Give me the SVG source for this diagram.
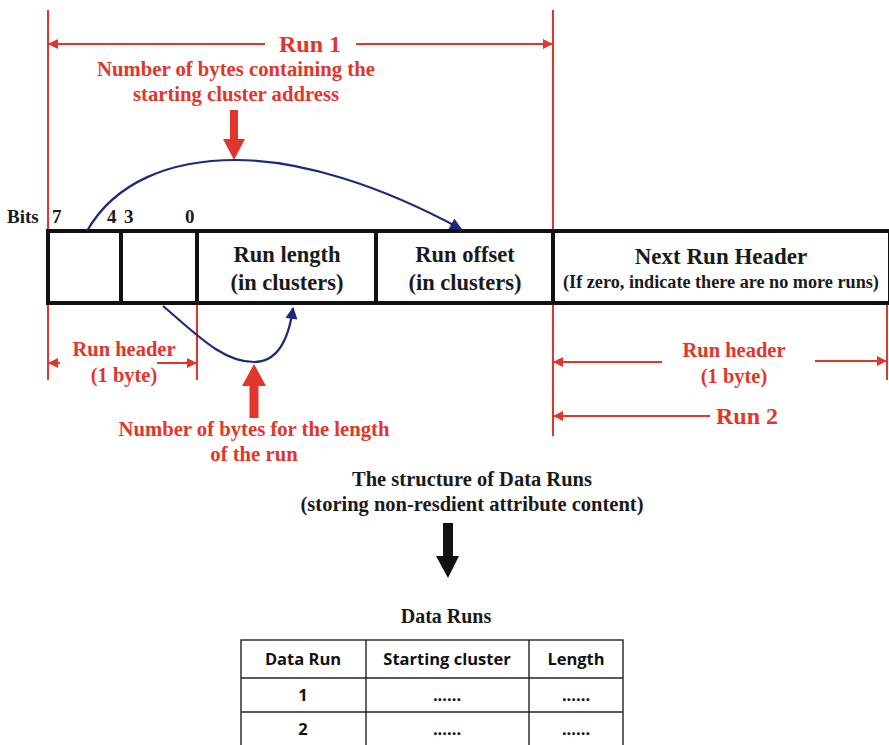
<svg xmlns="http://www.w3.org/2000/svg" width="889" height="745" viewBox="0 0 889 745">
  <defs>
    <marker id="redHead" viewBox="0 0 10 10" refX="10" refY="5" markerWidth="11" markerHeight="10" markerUnits="userSpaceOnUse" orient="auto-start-reverse">
      <path d="M0,0 L10,5 L0,10 z" fill="#e2352b"/>
    </marker>
    <marker id="blueHead" viewBox="0 0 10 10" refX="9" refY="5" markerWidth="13" markerHeight="12" markerUnits="userSpaceOnUse" orient="auto">
      <path d="M0,0 L10,5 L0,10 z" fill="#1d2a77"/>
    </marker>
    <style>
      .red { fill: #e2352b; }
      .rline { stroke: #e2352b; stroke-width: 2; fill: none; }
      .serif { font-family: "Liberation Serif", "Times New Roman", serif; font-weight: bold; }
      .lbl { fill: #e2352b; text-anchor: middle; }
      .blk { fill: #1a1a1a; text-anchor: middle; }
      .cell { fill: none; stroke: #111; stroke-width: 4; }
      .curve { stroke: #1d2a77; stroke-width: 2.2; fill: none; marker-end: url(#blueHead); }
      .tbl { fill: none; stroke: #222; stroke-width: 1.4; }
      .tt { font-family: "Open Sans", "Noto Sans", sans-serif; font-weight: bold; fill: #111; text-anchor: middle; }
    </style>
  </defs>

  <!-- boundary lines of the runs -->
  <g id="guides">
    <line class="rline" x1="48" y1="10" x2="48" y2="380"/>
    <line class="rline" x1="553" y1="10" x2="553" y2="436"/>
    <line class="rline" x1="197" y1="305" x2="197" y2="380"/>
    <line class="rline" x1="887" y1="305" x2="887" y2="380"/>
  </g>

  <!-- Run 1 span -->
  <g id="run1">
    <line class="rline" x1="48" y1="44" x2="265" y2="44" marker-start="url(#redHead)"/>
    <line class="rline" x1="356" y1="44" x2="553" y2="44" marker-end="url(#redHead)"/>
    <text class="serif lbl" x="310" y="52" font-size="24">Run 1</text>
  </g>

  <!-- offset-size annotation -->
  <g id="offsetNote">
    <text class="serif lbl" x="236" y="76" font-size="20.7">Number of bytes containing the</text>
    <text class="serif lbl" x="236" y="101" font-size="20.7">starting cluster address</text>
    <path class="red" d="M230,110 H238 V139 H245 L234,160 L223,139 H230 z"/>
  </g>

  <!-- bit numbers -->
  <g id="bits" class="serif" font-size="19" fill="#1a1a1a">
    <text x="7" y="223">Bits</text>
    <text x="52" y="223">7</text>
    <text x="107" y="223">4</text>
    <text x="124" y="223">3</text>
    <text x="185" y="223">0</text>
  </g>

  <!-- data run record -->
  <g id="record">
    <rect class="cell" x="48" y="231" width="842" height="72"/>
    <line class="cell" x1="121" y1="231" x2="121" y2="303"/>
    <line class="cell" x1="197" y1="231" x2="197" y2="303"/>
    <line class="cell" x1="376" y1="231" x2="376" y2="303"/>
    <line class="cell" x1="553" y1="231" x2="553" y2="303"/>
  </g>
  <g id="runLength" class="serif blk" font-size="22.5">
    <text x="287" y="262">Run length</text>
    <text x="287" y="290">(in clusters)</text>
  </g>
  <g id="runOffset" class="serif blk" font-size="22.5">
    <text x="465" y="262">Run offset</text>
    <text x="465" y="290">(in clusters)</text>
  </g>
  <g id="nextHeader" class="serif blk">
    <text x="721" y="264" font-size="23">Next Run Header</text>
    <text x="721" y="288" font-size="18.2">(If zero, indicate there are no more runs)</text>
  </g>

  <!-- connectors -->
  <g id="connectors">
    <path class="curve" d="M87,231 C115,182 170,160 236,160 C300,160 380,185 461,229"/>
    <path class="curve" d="M163,306 C195,333 222,362 254,362 C282,362 290,330 293,308"/>
  </g>

  <!-- Run header (1 byte), left -->
  <g id="headerLeft">
    <line class="rline" x1="48" y1="363" x2="60" y2="363" marker-start="url(#redHead)"/>
    <line class="rline" x1="157" y1="363" x2="197" y2="363" marker-end="url(#redHead)"/>
    <text class="serif lbl" x="124" y="356" font-size="20.5">Run header</text>
    <text class="serif lbl" x="124" y="382" font-size="20.5">(1 byte)</text>
  </g>

  <!-- length-size annotation -->
  <g id="lengthNote">
    <path class="red" d="M254,364 L266,386 H258.5 V418 H249.5 V386 H242 z"/>
    <text class="serif lbl" x="254" y="436" font-size="20.7">Number of bytes for the length</text>
    <text class="serif lbl" x="254" y="461" font-size="20.7">of the run</text>
  </g>

  <!-- Run header (1 byte), right -->
  <g id="headerRight">
    <line class="rline" x1="553" y1="362" x2="662" y2="362" marker-start="url(#redHead)"/>
    <line class="rline" x1="815" y1="361" x2="887" y2="361" marker-end="url(#redHead)"/>
    <text class="serif lbl" x="734" y="357" font-size="20.5">Run header</text>
    <text class="serif lbl" x="734" y="383" font-size="20.5">(1 byte)</text>
  </g>

  <!-- Run 2 span -->
  <g id="run2">
    <line class="rline" x1="553" y1="416" x2="710" y2="416" marker-start="url(#redHead)"/>
    <text class="serif lbl" x="747" y="424" font-size="24">Run 2</text>
  </g>

  <!-- caption -->
  <g id="caption" class="serif blk" font-size="20.5">
    <text x="472" y="486">The structure of Data Runs</text>
    <text x="472" y="511">(storing non-resdient attribute content)</text>
  </g>

  <!-- downward arrow to table -->
  <g id="toTable">
    <path fill="#111" d="M443,523 H453 V556 H459 L448,578 L436,556 H443 z"/>
  </g>

  <!-- Data Runs table -->
  <g id="table">
    <text class="serif blk" x="446" y="623" font-size="20">Data Runs</text>
    <rect class="tbl" x="241" y="640" width="382" height="110"/>
    <line class="tbl" x1="241" y1="678" x2="623" y2="678"/>
    <line class="tbl" x1="241" y1="712" x2="623" y2="712"/>
    <line class="tbl" x1="366" y1="640" x2="366" y2="745"/>
    <line class="tbl" x1="529" y1="640" x2="529" y2="745"/>
    <g class="tt" font-size="16.5">
      <text x="303" y="665">Data Run</text>
      <text x="447" y="665">Starting cluster</text>
      <text x="576" y="665">Length</text>
      <text x="303" y="701">1</text>
      <text x="447" y="701">......</text>
      <text x="576" y="701">......</text>
      <text x="303" y="735">2</text>
      <text x="447" y="735">......</text>
      <text x="576" y="735">......</text>
    </g>
  </g>
</svg>
